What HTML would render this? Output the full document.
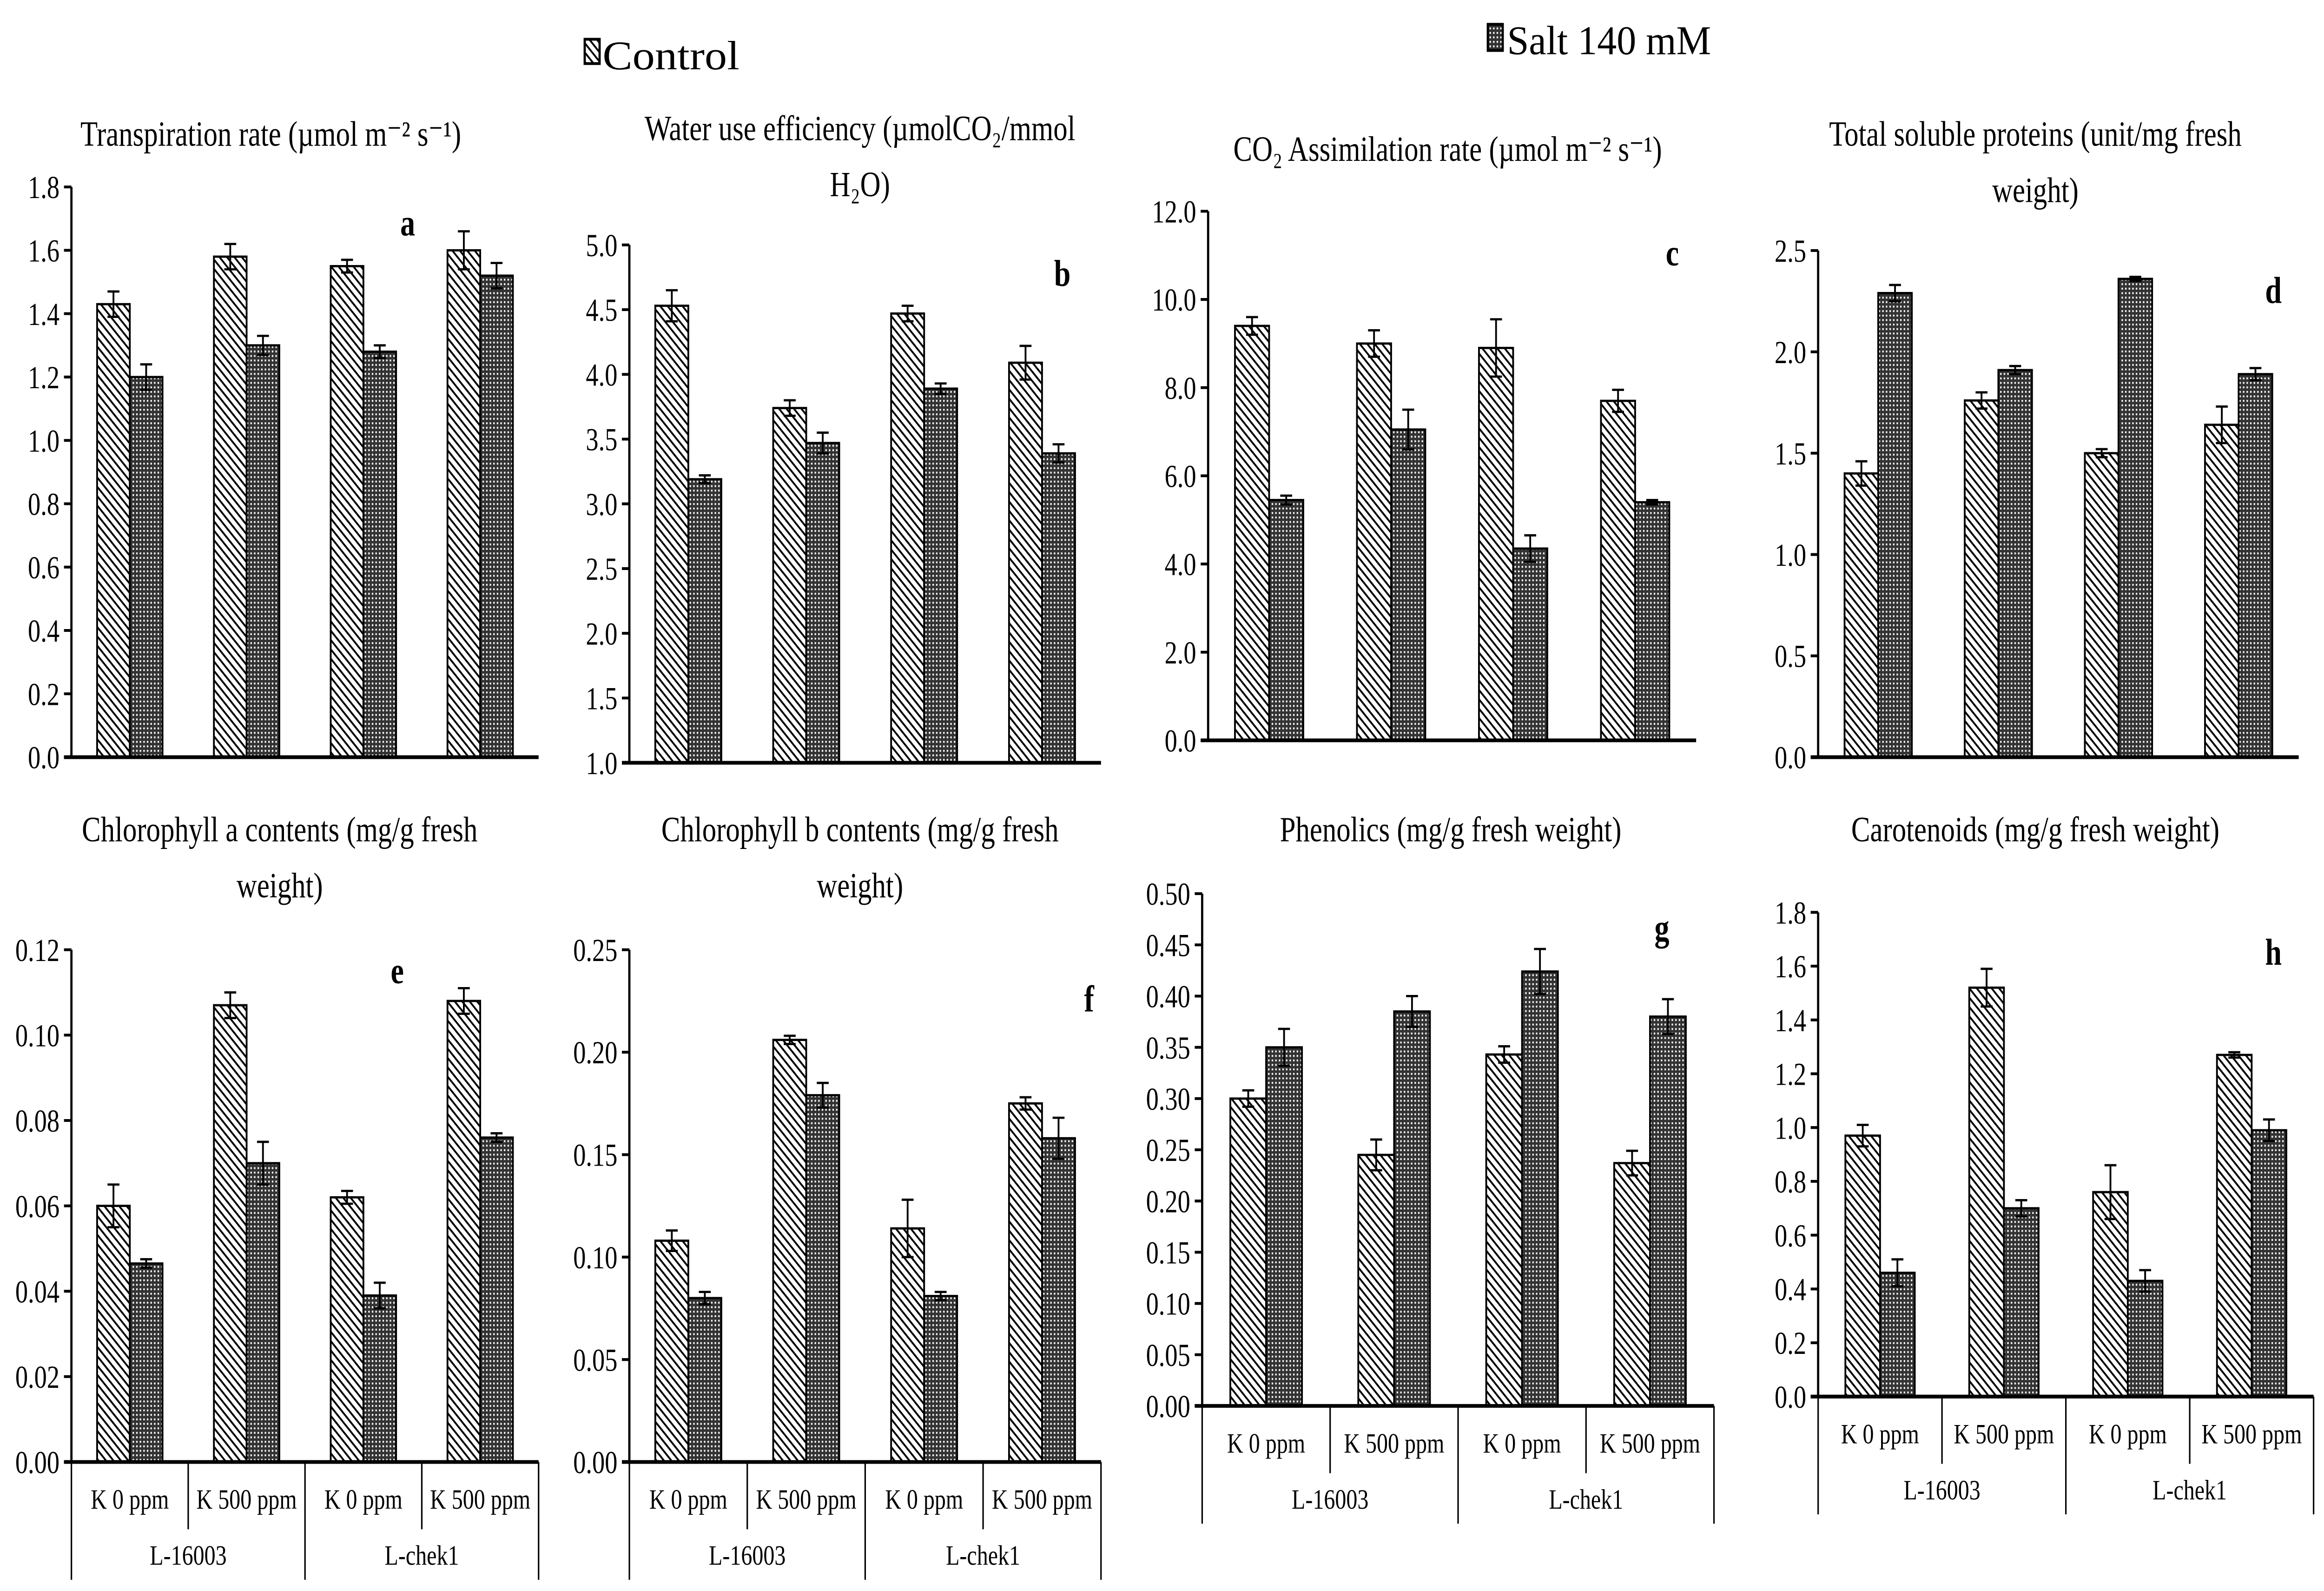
<!DOCTYPE html>
<html><head><meta charset="utf-8"><style>
html,body{margin:0;padding:0;background:#fff;overflow:hidden;}
svg{display:block;font-family:"Liberation Serif",serif;position:absolute;left:0;top:0;}
</style></head><body>
<svg id="root" width="6278" height="3422" xmlns="http://www.w3.org/2000/svg">
<defs>
<pattern id="hatch" patternUnits="userSpaceOnUse" width="5" height="5">
<rect width="5" height="5" fill="#fff"/>
<path d="M-1,-1 L6,6 M-1,4 L1,6 M4,-1 L6,1" stroke="#000" stroke-width="1.1"/>
</pattern>
<pattern id="cross" patternUnits="userSpaceOnUse" width="2.4" height="2.4">
<rect width="2.4" height="2.4" fill="#333"/>
<rect x="0.3" y="0.3" width="1" height="1" fill="#fff"/>
</pattern>
</defs>
<g id="fig" transform="scale(4.0192,4.0212)">
<g>
<rect x="393" y="21" width="10" height="13" fill="url(#hatch)" stroke="#000" stroke-width="1.5"/>
<text x="405" y="37" font-size="22" textLength="92" lengthAdjust="spacingAndGlyphs">Control</text>
<rect x="1000" y="13" width="10" height="14" fill="url(#cross)" stroke="#000" stroke-width="1.5"/>
<text x="1013" y="29" font-size="22" textLength="137" lengthAdjust="spacingAndGlyphs">Salt 140 mM</text>
</g>
</g>
</svg>
<script>
const groups = ["K 0 ppm","K 500 ppm","K 0 ppm","K 500 ppm"];
const varieties = ["L-16003","L-chek1"];
const aCtrl=[1.43,1.58,1.55,1.60], aSalt=[1.20,1.30,1.28,1.52], aCtrlErr=[0.04,0.04,0.02,0.06], aSaltErr=[0.04,0.03,0.02,0.04];
const aTicks=["0.0","0.2","0.4","0.6","0.8","1.0","1.2","1.4","1.6","1.8"];
const bCtrl=[4.53,3.74,4.47,4.09], bSalt=[3.19,3.47,3.89,3.39], bCtrlErr=[0.12,0.06,0.06,0.13], bSaltErr=[0.03,0.08,0.04,0.07];
const bTicks=["1.0","1.5","2.0","2.5","3.0","3.5","4.0","4.5","5.0"];
const cCtrl=[9.4,9.0,8.9,7.7], cSalt=[5.45,7.05,4.35,5.4], cCtrlErr=[0.2,0.3,0.65,0.25], cSaltErr=[0.1,0.45,0.3,0.05];
const cTicks=["0.0","2.0","4.0","6.0","8.0","10.0","12.0"];
const dCtrl=[1.40,1.76,1.50,1.64], dSalt=[2.29,1.91,2.36,1.89], dCtrlErr=[0.06,0.04,0.02,0.09], dSaltErr=[0.04,0.02,0.01,0.03];
const dTicks=["0.0","0.5","1.0","1.5","2.0","2.5"];
const eCtrl=[0.060,0.107,0.062,0.108], eSalt=[0.0465,0.070,0.039,0.076], eCtrlErr=[0.005,0.003,0.0015,0.003], eSaltErr=[0.001,0.005,0.003,0.001];
const eTicks=["0.00","0.02","0.04","0.06","0.08","0.10","0.12"];
const fCtrl=[0.108,0.206,0.114,0.175], fSalt=[0.080,0.179,0.081,0.158], fCtrlErr=[0.005,0.002,0.014,0.003], fSaltErr=[0.003,0.006,0.002,0.010];
const fTicks=["0.00","0.05","0.10","0.15","0.20","0.25"];
const gCtrl=[0.300,0.245,0.343,0.237], gSalt=[0.350,0.385,0.424,0.380], gCtrlErr=[0.008,0.015,0.008,0.012], gSaltErr=[0.018,0.015,0.022,0.017];
const gTicks=["0.00","0.05","0.10","0.15","0.20","0.25","0.30","0.35","0.40","0.45","0.50"];
const hCtrl=[0.97,1.52,0.76,1.27], hSalt=[0.46,0.70,0.43,0.99], hCtrlErr=[0.04,0.07,0.10,0.01], hSaltErr=[0.05,0.03,0.04,0.04];
const hTicks=["0.0","0.2","0.4","0.6","0.8","1.0","1.2","1.4","1.6","1.8"];

const panels=[
 {id:"a",t:["Transpiration rate (µmol m⁻² s⁻¹)"],tx:182,ty:78,x0:48,x1:362,yTop:100,yBot:405,ticks:aTicks,c:aCtrl,s:aSalt,ce:aCtrlErr,se:aSaltErr,lx:274,ly:126,cat:false},
 {id:"b",t:["Water use efficiency (µmolCO₂/mmol","H₂O)"],tx:578,ty:75,x0:423,x1:740,yTop:131,yBot:408,ticks:bTicks,c:bCtrl,s:bSalt,ce:bCtrlErr,se:bSaltErr,lx:714,ly:153,cat:false},
 {id:"c",t:["CO₂ Assimilation rate (µmol m⁻² s⁻¹)"],tx:973,ty:86,x0:812,x1:1140,yTop:113,yBot:396,ticks:cTicks,c:cCtrl,s:cSalt,ce:cCtrlErr,se:cSaltErr,lx:1124,ly:142,cat:false},
 {id:"d",t:["Total soluble proteins (unit/mg fresh","weight)"],tx:1368,ty:78,x0:1222,x1:1545,yTop:134,yBot:405,ticks:dTicks,c:dCtrl,s:dSalt,ce:dCtrlErr,se:dSaltErr,lx:1528,ly:162,cat:false},
 {id:"e",t:["Chlorophyll a contents (mg/g fresh","weight)"],tx:188,ty:450,x0:48,x1:362,yTop:508,yBot:782,ticks:eTicks,c:eCtrl,s:eSalt,ce:eCtrlErr,se:eSaltErr,lx:267,ly:526,cat:true},
 {id:"f",t:["Chlorophyll b contents (mg/g fresh","weight)"],tx:578,ty:450,x0:423,x1:740,yTop:508,yBot:782,ticks:fTicks,c:fCtrl,s:fSalt,ce:fCtrlErr,se:fSaltErr,lx:732,ly:541,cat:true},
 {id:"g",t:["Phenolics (mg/g fresh weight)"],tx:975,ty:450,x0:808,x1:1152,yTop:478,yBot:752,ticks:gTicks,c:gCtrl,s:gSalt,ce:gCtrlErr,se:gSaltErr,lx:1117,ly:503,cat:true},
 {id:"h",t:["Carotenoids (mg/g fresh weight)"],tx:1368,ty:450,x0:1222,x1:1555,yTop:488,yBot:747,ticks:hTicks,c:hCtrl,s:hSalt,ce:hCtrlErr,se:hSaltErr,lx:1528,ly:516,cat:true}
];
const NS="http://www.w3.org/2000/svg";
const root=document.getElementById("root");
const svg=document.getElementById("fig");
(function fit(){
 let W=window.innerWidth||document.documentElement.clientWidth||6278;
 let H=window.innerHeight||document.documentElement.clientHeight||3422;
 if(!W||W<100)W=6278;
 if(!H||H<100)H=3422;
 root.setAttribute("width",W);
 root.setAttribute("height",H);
 svg.setAttribute("transform","scale("+(W/1562)+","+(H/851)+")");
})();
function mk(tag,attrs,parent){const el=document.createElementNS(NS,tag);for(const k in attrs)el.setAttribute(k,attrs[k]);(parent||svg).appendChild(el);return el;}
panels.forEach(p=>{
 const g=mk("g",{});
 
 
 const vmin=parseFloat(p.ticks[0]),vmax=parseFloat(p.ticks[p.ticks.length-1]);
 const y=v=>p.yBot-(v-vmin)/(vmax-vmin)*(p.yBot-p.yTop);
 const gw=(p.x1-p.x0)/4;
 const bw=gw*0.28;
 p.t.forEach((line,i)=>{
  const t=mk("text",{x:p.tx,y:p.ty+i*30,"font-size":19,"text-anchor":"middle"},g);
  
  
  t.textContent=line;
 });
 p.ticks.forEach(tk=>{
  const v=parseFloat(tk),yy=y(v);
  const l=mk("line",{x1:p.x0-5,x2:p.x0,y1:yy,y2:yy,stroke:"#000","stroke-width":1.5},g);
  
  
  const t=mk("text",{x:p.x0-8,y:yy+6,"font-size":17,"text-anchor":"end"},g);
  
  
  t.textContent=tk;
 });
 for(let i=0;i<4;i++){
  const cx=p.x0+gw*(i+0.5);
  [[p.c[i],p.ce[i],"url(#hatch)",cx-bw,"control"],[p.s[i],p.se[i],"url(#cross)",cx,"salt"]].forEach(([v,e,fill,bx,nm])=>{
   const r=mk("rect",{x:bx,y:y(v),width:bw,height:p.yBot-y(v),fill:fill,stroke:"#000","stroke-width":1.2},g);
   
   
   const ex=bx+bw/2;
   const eb=mk("path",{d:`M${ex},${y(v+e)}V${y(v-e)}M${ex-4},${y(v+e)}H${ex+4}M${ex-4},${y(v-e)}H${ex+4}`,stroke:"#000","stroke-width":1.2,fill:"none"},g);
   
   
  });
 }
 const ax=mk("line",{x1:p.x0,x2:p.x0,y1:p.yTop,y2:p.yBot,stroke:"#000","stroke-width":1.5},g);
 
 
 const xa=mk("line",{x1:p.x0-5,x2:p.x1,y1:p.yBot,y2:p.yBot,stroke:"#000","stroke-width":2},g);
 
 
 if(p.cat){
  for(let i=0;i<=4;i++){
   const xx=p.x0+gw*i;
   const l=mk("line",{x1:xx,x2:xx,y1:p.yBot,y2:p.yBot+(i%2===0?63:36),stroke:"#000","stroke-width":1},g);
   
   
  }
  groups.forEach((gn,i)=>{
   const t=mk("text",{x:p.x0+gw*(i+0.5),y:p.yBot+25,"font-size":15,"text-anchor":"middle"},g);
   
   
   t.textContent=gn;
  });
  varieties.forEach((vn,i)=>{
   const t=mk("text",{x:p.x0+gw*(2*i+1),y:p.yBot+55,"font-size":15,"text-anchor":"middle"},g);
   
   
   t.textContent=vn;
  });
 }
 const lt=mk("text",{x:p.lx,y:p.ly,"font-size":20,"font-weight":"bold","text-anchor":"middle"},g);
 
 
 lt.textContent=p.id;
});
</script>
</body></html>
